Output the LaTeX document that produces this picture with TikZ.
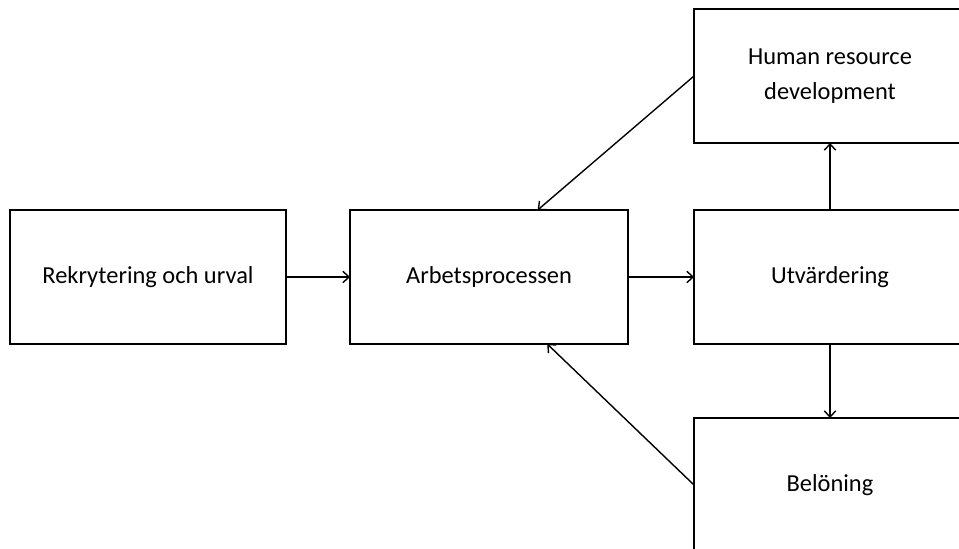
\documentclass[tikz,border=0pt]{standalone}
\usepackage{fontspec}
\setmainfont{Carlito}
\usetikzlibrary{arrows.meta}
\begin{document}
\begin{tikzpicture}[x=0.02cm,y=-0.02cm]
  \tikzset{
    box/.style={draw, line width=0.7pt, inner sep=0pt, outer sep=0pt,
                minimum width=5.52cm, minimum height=2.68cm, align=center,
                font=\fontsize{13.9}{20}\selectfont},
    flow/.style={-{Straight Barb[length=3.5pt,width=6.5pt]}, line width=0.8pt}
  }
  \clip (0,0) rectangle (959,548);
  \useasboundingbox (0,0) rectangle (959,548);

  % Boxes
  \node[box] (rekrytering) at (148,277) {Rekrytering och urval};
  \node[box, minimum width=5.56cm] (arbete) at (489,277) {Arbetsprocessen};
  \node[box, minimum width=5.44cm] (utvardering) at (830,277) {Utvärdering};
  \node[box, minimum width=5.44cm] (hrd) at (830,76) {Human resource\\development};
  \node[box, minimum width=5.44cm] (beloning) at (830,485) {Belöning};

  % Connectors
  \draw[flow] (rekrytering.east) -- (arbete.west);
  \draw[flow] (arbete.east) -- (utvardering.west);
  \draw[flow] (utvardering.north) -- (hrd.south);
  \draw[flow] (utvardering.south) -- (beloning.north);
  \draw[flow] (hrd.west) -- (arbete.54);
  \draw[flow] (beloning.west) -- (arbete.-49);
\end{tikzpicture}
\end{document}
